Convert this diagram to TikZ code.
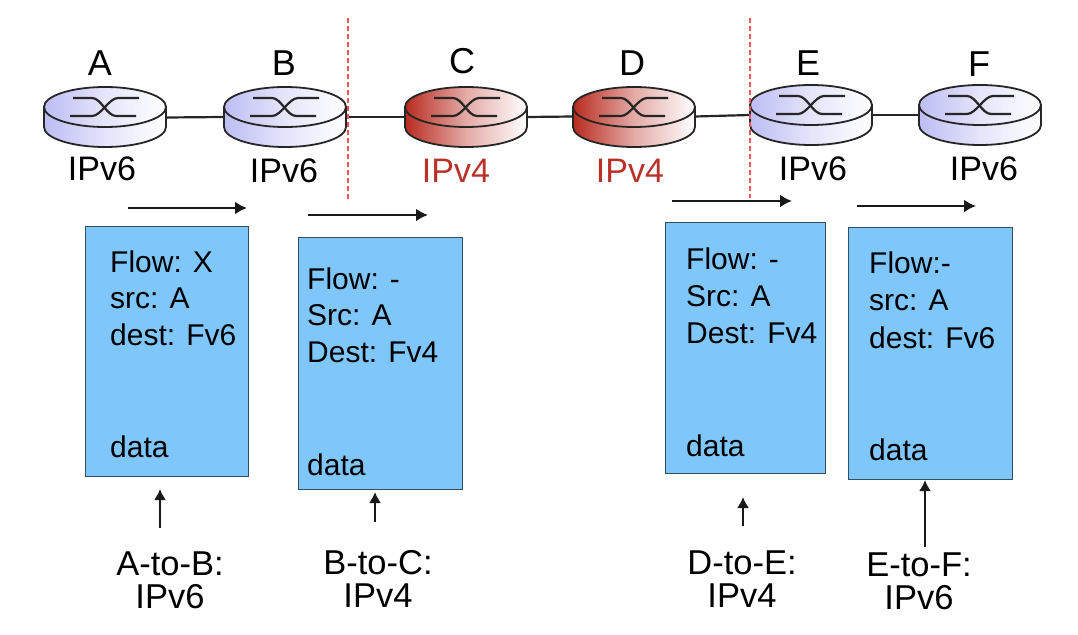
\documentclass[tikz,border=0pt]{standalone}
\usepackage{fontspec}
\setmainfont{Liberation Sans}
\usetikzlibrary{arrows.meta,calc}
\definecolor{pktblue}{HTML}{7FC6FA}
\definecolor{vsixfill}{HTML}{BDBDF5}
\definecolor{vfourfill}{HTML}{B92B20}
\definecolor{vfourtext}{HTML}{B8322A}
\definecolor{sepred}{HTML}{F2545B}
\tikzset{
  txt/.style={font=\fontsize{30}{34}\selectfont,inner sep=0pt,text=black},
  tag/.style={txt,font=\fontsize{36}{38}\selectfont},
  vsix/.style={txt,font=\fontsize{34}{36}\selectfont},
  vfour/.style={vsix,text=vfourtext},
  caption/.style={txt,align=center,font=\fontsize{34.5}{33}\selectfont},
  linkline/.style={draw=black!85,line width=2.2pt},
  flowarrow/.style={draw=black!90,line width=2.5pt,-{Latex[length=12pt,width=13pt]}},
  uparrow/.style={draw=black!90,line width=1.8pt,-{Latex[length=11pt,width=12pt]}},
  pktbox/.style={draw=black!60!pktblue,fill=pktblue,line width=1.6pt,anchor=north west,inner sep=0pt},
  sep/.style={draw=sepred,dash pattern=on 5pt off 3pt,line width=1.5pt},
  routerhit/.style={minimum width=122pt,minimum height=60pt,inner sep=0pt,rectangle},
  routerbody/.style={left color=#1,right color=white,middle color=#1!40!white,draw=black!85,line width=1.8pt},
}
\newcommand{\routerdraw}[3]{%
  % #1 cx, #2 top y of top ellipse, #3 fill colour
  \begin{scope}[shift={(#1,#2+20)}]
    \path[routerbody=#3]
      (-61,0) -- (-61,20) arc[start angle=180,end angle=0,x radius=61,y radius=20] -- (61,0) -- cycle;
    \path[routerbody=#3]
      (0,0) ellipse[x radius=61,y radius=20];
    \draw[black!85,line width=2.2pt]
      (-32,-9) -- (-13,-9) .. controls (-4,-9) and (2,9) .. (11,9) -- (31,9);
    \draw[black!85,line width=2.2pt]
      (34,-9) -- (13,-9) .. controls (4,-9) and (-4,9) .. (-13,9) -- (-35,9);
  \end{scope}}
\begin{document}
\begin{tikzpicture}[x=1pt,y=-1pt]
\useasboundingbox (0,0) rectangle (1078,634);
\node[routerhit] (A) at (105,117.5) {};
\node[routerhit] (B) at (285,117) {};
\node[routerhit] (C) at (466,117) {};
\node[routerhit] (D) at (634,116.5) {};
\node[routerhit] (E) at (811,115) {};
\node[routerhit] (F) at (980,115) {};
\draw[linkline] (A.east) -- (B.west);
\draw[linkline] (B.east) -- (C.west);
\draw[linkline] (C.east) -- (D.west);
\draw[linkline] (D.east) -- (E.west);
\draw[linkline] (E.east) -- (F.west);
\routerdraw{105}{87}{vsixfill}
\routerdraw{285}{87}{vsixfill}
\routerdraw{466}{87}{vfourfill}
\routerdraw{634}{87}{vfourfill}
\routerdraw{811}{85}{vsixfill}
\routerdraw{980}{85}{vsixfill}
% separators
\coordinate (s1a) at (348,18); \coordinate (s1b) at (348,202);
\coordinate (s2a) at (750,18); \coordinate (s2b) at (750,198);
\draw[sep] (s1a) -- (s1b);
\draw[sep] (s2a) -- (s2b);
% router names
\node[tag] (tA) at (100,63) {A};
\node[tag] (tB) at (284,63) {B};
\node[tag] (tC) at (462,61) {C};
\node[tag] (tD) at (632,63) {D};
\node[tag] (tE) at (808,63) {E};
\node[tag] (tF) at (979,64) {F};
% protocol labels
\node[vsix] (pA) at (102,169) {IPv6};
\node[vsix] (pB) at (284,171) {IPv6};
\node[vfour] (pC) at (456,171) {IPv4};
\node[vfour] (pD) at (630,171) {IPv4};
\node[vsix] (pE) at (813,169) {IPv6};
\node[vsix] (pF) at (984,169) {IPv6};
% flow arrows
\coordinate (f1a) at (128,208); \coordinate (f1b) at (247,208);
\coordinate (f2a) at (308,215); \coordinate (f2b) at (428,215);
\coordinate (f3a) at (672,201); \coordinate (f3b) at (792,201);
\coordinate (f4a) at (857,206); \coordinate (f4b) at (976,206);
\draw[flowarrow] (f1a) -- (f1b);
\draw[flowarrow] (f2a) -- (f2b);
\draw[flowarrow] (f3a) -- (f3b);
\draw[flowarrow] (f4a) -- (f4b);
% packets
\node[pktbox,minimum width=163pt,minimum height=250pt] (P1) at (84.5,225.5) {};
\node[pktbox,minimum width=164pt,minimum height=252pt] (P2) at (297.5,236.5) {};
\node[pktbox,minimum width=160pt,minimum height=251pt] (P3) at (664.5,221.5) {};
\node[pktbox,minimum width=164pt,minimum height=252pt] (P4) at (847.5,226.5) {};
% packet text
\node[txt,anchor=base west] (a1) at (110,272) {Flow: X};
\node[txt,anchor=base west] (a2) at (110,308) {src: A};
\node[txt,anchor=base west] (a3) at (110,345) {dest: Fv6};
\node[txt,anchor=base west] (a4) at (110,457) {data};
\node[txt,anchor=base west] (b1) at (307,289) {Flow: -};
\node[txt,anchor=base west] (b2) at (307,325) {Src: A};
\node[txt,anchor=base west] (b3) at (307,362) {Dest: Fv4};
\node[txt,anchor=base west] (b4) at (307,475) {data};
\node[txt,anchor=base west] (c1) at (686,269) {Flow: -};
\node[txt,anchor=base west] (c2) at (686,306) {Src: A};
\node[txt,anchor=base west] (c3) at (686,343) {Dest: Fv4};
\node[txt,anchor=base west] (c4) at (686,456) {data};
\node[txt,anchor=base west] (d1) at (869,273) {Flow:-};
\node[txt,anchor=base west] (d2) at (869,310) {src: A};
\node[txt,anchor=base west] (d3) at (869,348) {dest: Fv6};
\node[txt,anchor=base west] (d4) at (869,460) {data};
% bottom labels
\node[caption] (L1) at (170,580) {A-to-B:\\IPv6};
\node[caption] (L2) at (378,579) {B-to-C:\\IPv4};
\node[caption] (L3) at (742,579) {D-to-E:\\IPv4};
\node[caption] (L4) at (919,581) {E-to-F:\\IPv6};
% up arrows
\coordinate (u1) at (160,528);
\coordinate (u2) at (375,522);
\coordinate (u3) at (743,526);
\coordinate (u4) at (925,547);
\coordinate (h1) at (160,489);
\coordinate (h2) at (375,492);
\coordinate (h3) at (743,497);
\draw[uparrow] (u1) -- (h1);
\draw[uparrow] (u2) -- (h2);
\draw[uparrow] (u3) -- (h3);
\draw[uparrow] (u4) -- (u4 |- P4.south);
\end{tikzpicture}
\end{document}
